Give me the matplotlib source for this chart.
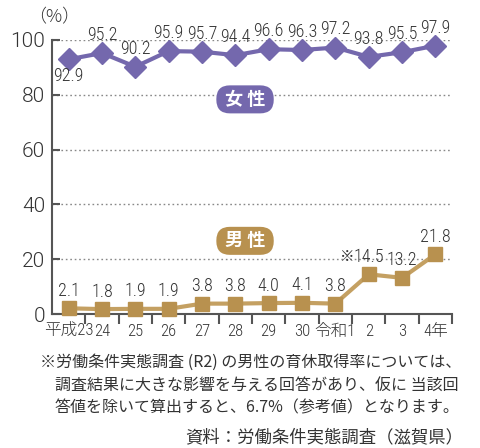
import matplotlib
matplotlib.use("Agg")
import matplotlib.pyplot as plt
from matplotlib import font_manager as fm

years = ["平成23", "24", "25", "26", "27", "28", "29", "30", "令和1", "2", "3", "4年"]
women = [92.9, 95.2, 90.2, 95.9, 95.7, 94.4, 96.6, 96.3, 97.2, 93.8, 95.5, 97.9]
men = [2.1, 1.8, 1.9, 1.9, 3.8, 3.8, 4.0, 4.1, 3.8, 14.5, 13.2, 21.8]
women_label_below = [True] + [False] * 11
men_note_index = 9

names = {f.name for f in fm.fontManager.ttflist}
def pick(cands, default):
    for c in cands:
        if c in names:
            return c
    return default

NARROW = pick(['Liberation Sans Narrow', 'Roboto Condensed', 'Archivo Narrow', 'Barlow Semi Condensed'], 'Liberation Sans')
REG = pick(['Roboto', 'Liberation Sans'], 'DejaVu Sans')
CJK = 'Noto Sans CJK JP'
PURPLE = '#7468ad'
BROWN = '#b8914f'
BROWN_LINE = '#c4a062'
AX = '#555555'
TXT = '#333333'

fig = plt.figure(figsize=(4.81, 4.48), dpi=100)
ax = fig.add_axes([0.108, 0.299, 0.832, 0.612])
x = list(range(len(years)))

ax.plot(x, women, color=PURPLE, lw=3, marker='D', ms=11, mec=PURPLE, mfc=PURPLE, clip_on=False, zorder=4)
ax.plot(x, men, color=BROWN_LINE, lw=3, zorder=3, clip_on=False)
ax.plot(x, men, ls='none', marker='s', ms=9.5, mec=BROWN, mfc=BROWN, clip_on=False, zorder=4)

ax.set_xlim(-0.5, 11.5)
ax.set_ylim(0, 100)
for s in ['top', 'right']:
    ax.spines[s].set_visible(False)
for s in ['left', 'bottom']:
    ax.spines[s].set_color(AX)
    ax.spines[s].set_linewidth(1.5)

ax.set_yticks([0, 20, 40, 60, 80, 100])
ax.set_yticklabels(["0", "20", "40", "60", "80", "100"], family=REG, fontweight=300,
                   fontsize=15, color=TXT)
ax.tick_params(axis='y', direction='in', length=6, width=1.5, color=AX, pad=5)
ax.yaxis.grid(True, color='#888888', lw=1, ls=(0, (1.2, 2)))
ax.set_axisbelow(True)

ax.set_xticks(x)
ax.set_xticklabels(years, family=[NARROW, CJK], fontweight=300, fontsize=12, color=TXT)
ax.tick_params(axis='x', which='major', length=0, pad=7)
ax.set_xticks([i + 0.5 for i in x], minor=True)
ax.tick_params(axis='x', which='minor', direction='out', length=7, width=1.5, color=AX)

for i, v in enumerate(women):
    off = -12 if women_label_below[i] else 13
    ax.annotate(f"{v:.1f}", (i, v), xytext=(0, off), textcoords='offset points',
                ha='center', va='center', fontsize=13, family=NARROW, fontweight=300,
                color=TXT, zorder=5, annotation_clip=False)
for i, v in enumerate(men):
    ax.annotate(f"{v:.1f}", (i, v), xytext=(0, 12.5), textcoords='offset points',
                ha='center', va='center', fontsize=13, family=NARROW, fontweight=300,
                color=TXT, zorder=5, annotation_clip=False)
    if i == men_note_index:
        ax.annotate("※", (i, v), xytext=(-10, 12.5), textcoords='offset points',
                    ha='right', va='center', fontsize=10.5, family=CJK, color=TXT, zorder=5)

ax.text(5.29, 78.3, " 女 性 ", ha='center', va='center', fontsize=13, fontweight='bold',
        family=CJK, color='white', zorder=6,
        bbox=dict(boxstyle='round,pad=0.25,rounding_size=0.75', fc=PURPLE, ec='none'))
ax.text(5.29, 26.7, " 男 性 ", ha='center', va='center', fontsize=13, fontweight='bold',
        family=CJK, color='white', zorder=6,
        bbox=dict(boxstyle='round,pad=0.25,rounding_size=0.75', fc=BROWN, ec='none'))

fig.text(0.112, 0.962, "（%）", ha='center', va='center', fontsize=13, family=CJK,
         fontweight=300, color=TXT)

fn = dict(fontsize=11.5, family=[CJK, 'DejaVu Sans'], color=TXT, va='center')
fig.text(0.083, 0.192, "※労働条件実態調査 (R2) の男性の育休取得率については、", ha='left', **fn)
fig.text(0.114, 0.141, "調査結果に大きな影響を与える回答があり、仮に 当該回", ha='left', **fn)
fig.text(0.114, 0.089, "答値を除いて算出すると、6.7%（参考値）となります。", ha='left', **fn)
fig.text(0.963, 0.025, "資料：労働条件実態調査（滋賀県）", ha='right', va='center',
         fontsize=12.5, family=[CJK, 'DejaVu Sans'], color=TXT)

fig.savefig("out.png", dpi=100)
